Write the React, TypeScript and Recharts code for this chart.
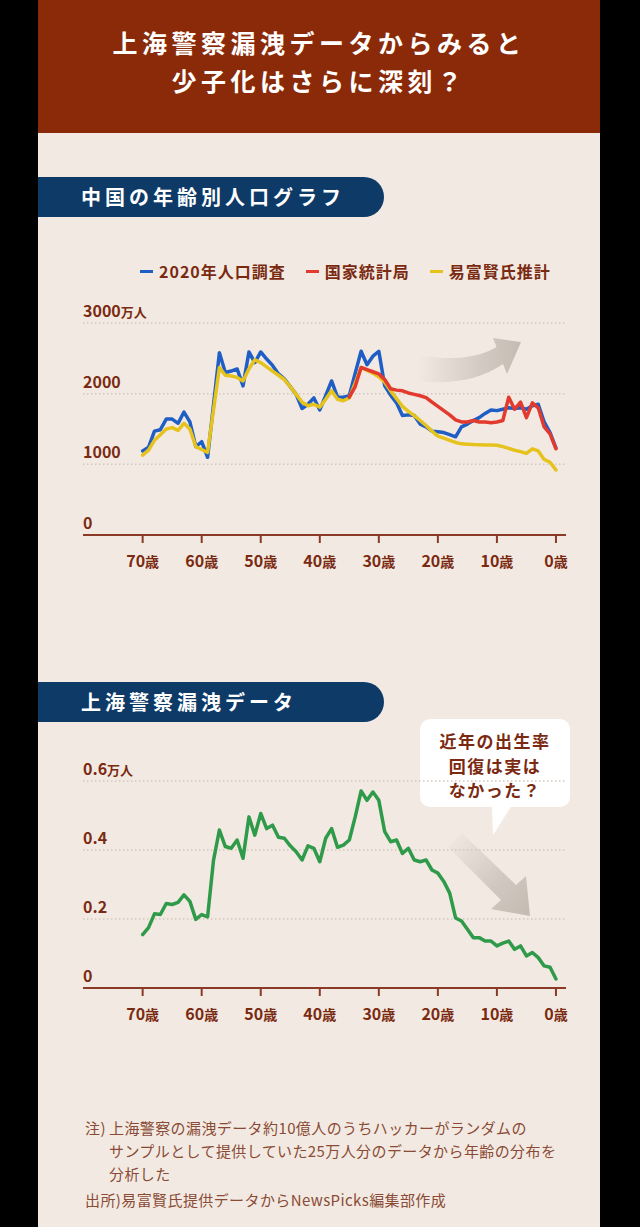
import React from "react";
import { LineChart, Line, XAxis, YAxis, CartesianGrid } from "recharts";

// ---------- data ----------
const AGES = [
  70, 69, 68, 67, 66, 65, 64, 63, 62, 61,
  60, 59, 58, 57, 56, 55, 54, 53, 52, 51,
  50, 49, 48, 47, 46, 45, 44, 43, 42, 41,
  40, 39, 38, 37, 36, 35, 34, 33, 32, 31,
  30, 29, 28, 27, 26, 25, 24, 23, 22, 21,
  20, 19, 18, 17, 16, 15, 14, 13, 12, 11,
  10, 9, 8, 7, 6, 5, 4, 3, 2, 1, 0,
];

// 2020年人口調査 (万人)
const CENSUS_2020 = [
  1190, 1240, 1470, 1490, 1640, 1640, 1580, 1740, 1600, 1250,
  1320, 1100, 1840, 2580, 2300, 2320, 2350, 2110, 2590, 2440,
  2590, 2490, 2400, 2280, 2210, 2100, 1990, 1790, 1850, 1940,
  1770, 1970, 2180, 1950, 1950, 1970, 2290, 2600, 2410, 2530,
  2600, 2110, 1980, 1870, 1690, 1700, 1690, 1570, 1530, 1470,
  1460, 1450, 1420, 1390, 1530, 1570, 1620, 1660, 1720, 1770,
  1760, 1780, 1800, 1790, 1800, 1780, 1830, 1850, 1600, 1450, 1230,
];

// 国家統計局 (万人) — only ages 35..0
const NBS = [
  null, null, null, null, null, null, null, null, null, null,
  null, null, null, null, null, null, null, null, null, null,
  null, null, null, null, null, null, null, null, null, null,
  null, null, null, null, null, 1950, 2100, 2370, 2340, 2310,
  2280, 2200, 2070, 2050, 2040, 2010, 1990, 1970, 1945, 1880,
  1820, 1760, 1700, 1630, 1600, 1600, 1620, 1600, 1600, 1590,
  1600, 1620, 1950, 1780, 1880, 1660, 1870, 1800, 1530, 1430, 1220,
];

// 易富賢氏推計 (万人)
const YI_ESTIMATE = [
  1130, 1200, 1340, 1420, 1500, 1520, 1480, 1580, 1500, 1250,
  1210, 1170, 1770, 2370, 2260, 2250, 2230, 2180, 2350, 2480,
  2440, 2380, 2320, 2260, 2200, 2100, 1990, 1880, 1830, 1850,
  1810, 1920, 2040, 1920, 1900, 1940, 2150, 2370, 2330, 2290,
  2240, 2160, 2040, 1930, 1820, 1750, 1690, 1620, 1550, 1470,
  1400, 1370, 1340, 1310, 1290, 1285, 1280, 1278, 1275, 1272,
  1270, 1250, 1225, 1200, 1180, 1155, 1220, 1190, 1070, 1030, 920,
];

// 上海警察漏洩データ (万人)
const SHANGHAI_LEAK = [
  0.155, 0.175, 0.215, 0.213, 0.245, 0.242, 0.248, 0.27, 0.251, 0.199,
  0.213, 0.206, 0.37, 0.458, 0.41, 0.405, 0.429, 0.376, 0.496, 0.443,
  0.506, 0.462, 0.472, 0.437, 0.434, 0.412, 0.395, 0.371, 0.412, 0.405,
  0.366, 0.434, 0.462, 0.408, 0.414, 0.429, 0.496, 0.571, 0.544, 0.568,
  0.544, 0.453, 0.424, 0.429, 0.39, 0.405, 0.371, 0.366, 0.371, 0.342,
  0.333, 0.309, 0.275, 0.203, 0.194, 0.17, 0.146, 0.146, 0.136, 0.136,
  0.122, 0.13, 0.136, 0.112, 0.122, 0.093, 0.103, 0.088, 0.064, 0.06, 0.026,
];

const X_TICKS = [70, 60, 50, 40, 30, 20, 10, 0];
const X_SUFFIX = "歳";
const Y1_TICKS = [0, 1000, 2000, 3000];
const Y2_TICKS = [0, 0.2, 0.4, 0.6];
const Y_UNIT = "万人";

const SERIES1 = [
  { key: "census", name: "2020年人口調査", color: "#1f5ec4" },
  { key: "yi", name: "易富賢氏推計", color: "#e6c21c" },
  { key: "nbs", name: "国家統計局", color: "#e23a2e" },
];
const LEGEND_ORDER = ["census", "nbs", "yi"];
const GREEN = "#2f9a49";

const TITLE_LINES = ["上海警察漏洩データからみると", "少子化はさらに深刻？"];
const BANNER1 = "中国の年齢別人口グラフ";
const BANNER2 = "上海警察漏洩データ";
const BUBBLE_LINES = ["近年の出生率", "回復は実は", "なかった？"];
const NOTE_HEAD = "注)";
const NOTE_LINES = [
  "上海警察の漏洩データ約10億人のうちハッカーがランダムの",
  "サンプルとして提供していた25万人分のデータから年齢の分布を",
  "分析した",
];
const SOURCE_HEAD = "出所)";
const SOURCE_TEXT = "易富賢氏提供データからNewsPicks編集部作成";

const data1 = AGES.map((age, i) => ({
  age,
  census: CENSUS_2020[i],
  nbs: NBS[i],
  yi: YI_ESTIMATE[i],
}));
const data2 = AGES.map((age, i) => ({ age, leak: SHANGHAI_LEAK[i] }));

// ---------- style ----------
const FONT = '"Noto Sans CJK JP", "Noto Sans", sans-serif';
const BROWN = "#7b2a12";
const AXIS = "#8a3a26";
const BG = "#f2eae2";
const HEADER = "#8b2a08";
const NAVY = "#0e3a68";
const GRID = "#d3c8bd";
const Y_AXIS_W = 45;

const XTick = (props: any) => {
  const { x, y, payload } = props;
  return (
    <text x={x} y={y + 22} textAnchor="middle" fill={BROWN} fontFamily={FONT} fontWeight={700} fontSize={16}>
      {payload.value}
      <tspan fontSize={14}>{X_SUFFIX}</tspan>
    </text>
  );
};

const makeYTick = (top: number) => (props: any) => {
  const { y, payload } = props;
  return (
    <g>
      <text x={Y_AXIS_W} y={y - 6} textAnchor="start" fill={BROWN} fontFamily={FONT} fontWeight={700} fontSize={16}>
        {String(payload.value)}
        {payload.value === top ? <tspan fontSize={13}>{Y_UNIT}</tspan> : null}
      </text>
    </g>
  );
};

const Banner = ({ top, text }: { top: number; text: string }) => (
  <div
    style={{
      position: "absolute",
      left: 38,
      top,
      width: 346,
      height: 40,
      background: NAVY,
      borderRadius: "0 20px 20px 0",
      color: "#fff",
      fontFamily: FONT,
      fontWeight: 700,
      fontSize: 20,
      letterSpacing: 4,
      lineHeight: "40px",
      paddingLeft: 43,
      boxSizing: "border-box",
      whiteSpace: "nowrap",
    }}
  >
    {text}
  </div>
);

const AxisSet = ({ domainY, ticksY, top }: { domainY: number[]; ticksY: number[]; top: number }) => null;

export default function App() {
  const seriesByKey: Record<string, any> = {};
  SERIES1.forEach((s) => (seriesByKey[s.key] = s));
  return (
    <div style={{ position: "absolute", left: 0, top: 0, width: 640, height: 1227, background: "#000", overflow: "hidden" }}>
      <div style={{ position: "absolute", left: 38, top: 0, width: 562, height: 1227, background: BG }} />
      {/* header */}
      <div style={{ position: "absolute", left: 38, top: 0, width: 562, height: 133, background: HEADER }} />
      <div
        style={{
          position: "absolute",
          left: 38,
          top: 23,
          width: 562,
          textAlign: "center",
          color: "#fff",
          fontFamily: FONT,
          fontWeight: 700,
          fontSize: 25,
          letterSpacing: 4.5,
          lineHeight: "38px",
        }}
      >
        {TITLE_LINES.map((t) => (
          <div key={t}>{t}</div>
        ))}
      </div>

      <Banner top={177} text={BANNER1} />
      <Banner top={682} text={BANNER2} />

      {/* legend */}
      <div
        style={{
          position: "absolute",
          left: 140,
          top: 259,
          height: 24,
          display: "flex",
          alignItems: "center",
          gap: 20,
          fontFamily: FONT,
          fontWeight: 700,
          fontSize: 16,
          letterSpacing: 1,
          color: BROWN,
          whiteSpace: "nowrap",
        }}
      >
        {LEGEND_ORDER.map((k) => (
          <div key={k} style={{ display: "flex", alignItems: "center" }}>
            <span style={{ display: "inline-block", width: 13, height: 3, background: seriesByKey[k].color, marginRight: 6 }} />
            <span>{seriesByKey[k].name}</span>
          </div>
        ))}
      </div>

      {/* decorations */}
      <svg width={640} height={1227} style={{ position: "absolute", left: 0, top: 0 }}>
        <defs>
          <linearGradient id="arr1" x1="418" y1="0" x2="521" y2="0" gradientUnits="userSpaceOnUse">
            <stop offset="0" stopColor="#c9c1b9" stopOpacity="0" />
            <stop offset="0.6" stopColor="#c9c1b9" stopOpacity="0.75" />
            <stop offset="1" stopColor="#c4bbb2" stopOpacity="1" />
          </linearGradient>
          <linearGradient id="arr2" x1="450" y1="835" x2="528" y2="912" gradientUnits="userSpaceOnUse">
            <stop offset="0" stopColor="#c9c1b9" stopOpacity="0" />
            <stop offset="0.6" stopColor="#c9c1b9" stopOpacity="0.8" />
            <stop offset="1" stopColor="#c4bbb2" stopOpacity="1" />
          </linearGradient>
        </defs>
        <path d="M416,355 Q468,364 496.5,347 L493,338 L521,342 L507,374 L503,364 Q470,387 416,381 Z" fill="url(#arr1)" />
        <path d="M462,833 L516,885 L526,876 L530,916 L491,909 L501,900 L448,847 Z" fill="url(#arr2)" />
        <rect x={420} y={719} width={150} height={88} rx={10} fill="#fff" />
        <polygon points="492,805 512,805 493,835" fill="#fff" />
        {BUBBLE_LINES.map((t, i) => (
          <text
            key={t}
            x={495}
            y={748 + i * 24.5}
            textAnchor="middle"
            fill={BROWN}
            fontFamily={FONT}
            fontWeight={700}
            fontSize={17}
            letterSpacing={1.5}
          >
            {t}
          </text>
        ))}
      </svg>

      {/* chart 1 */}
      <div style={{ position: "absolute", left: 38, top: 290 }}>
        <LineChart width={562} height={300} data={data1} margin={{ top: 33, right: 34, left: 0, bottom: 15 }}>
          <CartesianGrid vertical={false} stroke={GRID} strokeDasharray="1.5 2.5" strokeWidth={1.5} />
          <XAxis
            type="number"
            dataKey="age"
            domain={[-1.7, 80.1]}
            reversed
            ticks={X_TICKS}
            interval={0}
            height={40}
            axisLine={{ stroke: AXIS, strokeWidth: 2 }}
            tickLine={{ stroke: AXIS, strokeWidth: 2 }}
            tickSize={8}
            tickMargin={2}
            tick={<XTick />}
            allowDataOverflow
          />
          <YAxis
            type="number"
            domain={[0, 3000]}
            ticks={Y1_TICKS}
            interval={0}
            width={Y_AXIS_W}
            axisLine={false}
            tickLine={false}
            tick={makeYTick(3000)}
          />
          {SERIES1.map((s) => (
            <Line
              key={s.key}
              type="linear"
              dataKey={s.key}
              name={s.name}
              stroke={s.color}
              strokeWidth={3.5}
              strokeLinejoin="round"
              strokeLinecap="round"
              dot={false}
              activeDot={false}
              isAnimationActive={false}
            />
          ))}
        </LineChart>
      </div>

      {/* chart 2 */}
      <div style={{ position: "absolute", left: 38, top: 750 }}>
        <LineChart width={562} height={300} data={data2} margin={{ top: 31, right: 34, left: 0, bottom: 22 }}>
          <CartesianGrid vertical={false} stroke={GRID} strokeDasharray="1.5 2.5" strokeWidth={1.5} />
          <XAxis
            type="number"
            dataKey="age"
            domain={[-1.7, 80.1]}
            reversed
            ticks={X_TICKS}
            interval={0}
            height={40}
            axisLine={{ stroke: AXIS, strokeWidth: 2 }}
            tickLine={{ stroke: AXIS, strokeWidth: 2 }}
            tickSize={8}
            tickMargin={2}
            tick={<XTick />}
            allowDataOverflow
          />
          <YAxis
            type="number"
            domain={[0, 0.6]}
            ticks={Y2_TICKS}
            interval={0}
            width={Y_AXIS_W}
            axisLine={false}
            tickLine={false}
            tick={makeYTick(0.6)}
          />
          <Line
            type="linear"
            dataKey="leak"
            name="上海警察漏洩データ"
            stroke={GREEN}
            strokeWidth={3.5}
            strokeLinejoin="round"
            strokeLinecap="round"
            dot={false}
            activeDot={false}
            isAnimationActive={false}
          />
        </LineChart>
      </div>

      {/* footnote */}
      <div
        style={{
          position: "absolute",
          left: 85,
          top: 1116,
          width: 480,
          fontFamily: FONT,
          fontSize: 15,
          letterSpacing: 0.4,
          color: "#8a4a36",
          lineHeight: "23px",
          whiteSpace: "nowrap",
        }}
      >
        {NOTE_LINES.map((t, i) => (
          <div key={i} style={{ display: "flex" }}>
            <span style={{ width: 24, display: "inline-block" }}>{i === 0 ? NOTE_HEAD : ""}</span>
            <span>{t}</span>
          </div>
        ))}
        <div style={{ marginTop: 3 }}>
          <span>{SOURCE_HEAD}</span>
          <span>{SOURCE_TEXT}</span>
        </div>
      </div>
    </div>
  );
}
